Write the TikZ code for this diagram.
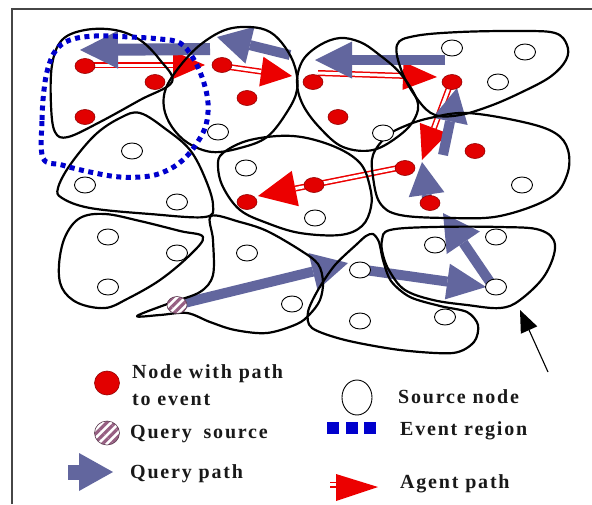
\documentclass[tikz,border=0pt]{standalone}
\usepackage{fontspec}
\setmainfont{Liberation Serif}
\newfontfamily\legfont[LetterSpace=9]{Liberation Serif}
\usetikzlibrary{shapes.geometric,calc,patterns.meta}

\definecolor{qblue}{RGB}{98,102,158}
\definecolor{ared}{RGB}{236,0,0}
\definecolor{nred}{RGB}{226,0,0}
\definecolor{evblue}{RGB}{0,0,205}
\definecolor{mauve}{RGB}{150,95,130}
\definecolor{framegray}{RGB}{70,70,70}
\definecolor{txt}{RGB}{25,25,25}

\tikzset{
  blob/.style={draw=black, line width=2.2pt, line join=round},
  evregion/.style={draw=evblue, line width=5pt, dash pattern=on 5pt off 4.5pt},
  rednode/.style={ellipse, draw=nred!65!black, line width=0.6pt, fill=nred, minimum width=20pt, minimum height=15pt, inner sep=0pt},
  srcnode/.style={ellipse, draw=black, line width=0.9pt, fill=white, minimum width=21pt, minimum height=16pt, inner sep=0pt},
  qsrcnode/.style={ellipse, draw=mauve!60!black, line width=0.6pt, preaction={fill=white}, pattern={Lines[angle=45,distance=6pt,line width=3.2pt]}, pattern color=mauve, minimum width=20pt, minimum height=17pt, inner sep=0pt},
  legtext/.style={anchor=base west, inner sep=0pt, text=txt, font=\legfont\bfseries\fontsize{20}{24}\selectfont},
  agentline/.style={draw=ared, line width=1.5pt, double=white, double distance=3pt},
}

% #1 colour, #2 start, #3 tip, #4 head length, #5 half head width, #6 shaft width
\newcommand{\blockarrow}[6]{%
  \path ($(#3)!#4!(#2)$) coordinate (tmpbase);
  \draw[draw=#1, line width=#6] (#2) -- (tmpbase);
  \fill[#1] (#3) -- ($(tmpbase)!#5!90:(#3)$) -- ($(tmpbase)!#5!-90:(#3)$) -- cycle;
}
% #1 start, #2 tip, #3 head length, #4 half head width
\newcommand{\agentarrow}[4]{%
  \path ($(#2)!#3!(#1)$) coordinate (tmpabase);
  \draw[agentline] (#1) -- (tmpabase);
  \fill[ared] (#2) -- ($(tmpabase)!#4!90:(#2)$) -- ($(tmpabase)!#4!-90:(#2)$) -- cycle;
}

\begin{document}
\begin{tikzpicture}[x=1pt, y=-1pt]
\useasboundingbox (0,0) rectangle (592,504);
\fill[white] (0,0) rectangle (592,504);

% frame
\coordinate (fbl) at (12,504);
\coordinate (ftl) at (12,9);
\coordinate (ftr) at (592,9);
\draw[framegray, line width=2pt] (fbl) -- (ftl) -- (ftr);

% ---------- arrow end points ----------
\coordinate (q1s) at (180,304);  \coordinate (q1t) at (348,263);
\coordinate (q2s) at (365,270);  \coordinate (q2t) at (486,287);
\coordinate (q3s) at (490,282);  \coordinate (q3t) at (443,213);
\coordinate (q4s) at (428,205);  \coordinate (q4t) at (422,162);
\coordinate (q5s) at (443,155);  \coordinate (q5t) at (457,88);
\coordinate (q6s) at (445,60);   \coordinate (q6t) at (315,60);
\coordinate (q7s) at (290,55);   \coordinate (q7t) at (217,37);
\coordinate (q8s) at (210,49);   \coordinate (q8t) at (80,50);

\coordinate (a1s) at (88,65);    \coordinate (a1t) at (205,65);
\coordinate (a2s) at (222,66);   \coordinate (a2t) at (292,76);
\coordinate (a3s) at (318,73);   \coordinate (a3t) at (437,77);
\coordinate (a4s) at (450,85);   \coordinate (a4t) at (422,160);
\coordinate (a5s) at (403,167);  \coordinate (a5t) at (258,196);

% ---------- agent path ----------
\agentarrow{a1s}{a1t}{32pt}{14pt}
\agentarrow{a2s}{a2t}{31pt}{15pt}
\agentarrow{a3s}{a3t}{34pt}{14pt}
\agentarrow{a4s}{a4t}{34pt}{15pt}
\agentarrow{a5s}{a5t}{38pt}{18pt}

% ---------- query path ----------
\blockarrow{qblue}{q1s}{q1t}{36pt}{19pt}{10pt}
\blockarrow{qblue}{q2s}{q2t}{39pt}{18pt}{10pt}
\blockarrow{qblue}{q3s}{q3t}{36pt}{20pt}{10pt}
\blockarrow{qblue}{q4s}{q4t}{33pt}{18pt}{10pt}
\blockarrow{qblue}{q5s}{q5t}{34pt}{18pt}{10pt}
\blockarrow{qblue}{q6s}{q6t}{37pt}{18.5pt}{10pt}
\blockarrow{qblue}{q7s}{q7t}{34pt}{19pt}{10pt}
\blockarrow{qblue}{q8s}{q8t}{38pt}{19pt}{12pt}

% ---------- clusters ----------
\begin{scope}[blob]
\draw plot[smooth cycle, tension=0.6] coordinates {(62,40) (85,30) (115,30) (140,40) (160,60) (172,82) (140,100) (100,122) (68,137) (55,132) (51,105) (52,65)};
\draw plot[smooth cycle, tension=0.6] coordinates {(200,45) (225,30) (250,27) (270,32) (285,47) (295,67) (297,90) (287,112) (267,137) (240,148) (212,152) (188,143) (172,127) (164,108) (166,88) (180,66)};
\draw plot[smooth cycle, tension=0.6] coordinates {(303,60) (320,45) (340,38) (360,42) (377,53) (400,73) (417,100) (415,118) (400,135) (373,150) (343,147) (320,128) (303,105) (297,82)};
\draw plot[smooth cycle, tension=0.6] coordinates {(397,45) (415,36) (460,32) (520,31) (555,33) (567,45) (566,60) (550,77) (520,93) (490,106) (460,115) (435,115) (418,100) (402,72)};
\draw plot[smooth cycle, tension=0.6] coordinates {(387,136) (405,126) (430,118) (467,113) (523,122) (555,133) (568,150) (567,175) (550,198) (500,216) (450,218) (400,215) (380,203) (373,177) (373,155)};
\draw plot[smooth cycle, tension=0.6] coordinates {(223,153) (250,140) (293,136) (333,146) (360,163) (370,187) (371,207) (362,226) (340,235) (300,233) (267,223) (240,210) (223,187) (218,166)};
\draw plot[smooth cycle, tension=0.6] coordinates {(140,113) (167,130) (190,150) (205,178) (213,205) (205,217) (150,214) (90,208) (62,198) (58,188) (70,165) (95,135) (120,118)};
\draw plot[smooth cycle, tension=0.6] coordinates {(80,218) (105,214) (140,221) (180,231) (203,237) (190,255) (160,280) (127,299) (105,308) (78,303) (62,288) (59,265) (65,237)};
\draw plot[smooth cycle, tension=0.55] coordinates {(211,216) (240,222) (267,231) (300,250) (318,264) (323,282) (320,300) (310,314) (297,324) (267,333) (235,330) (210,322) (187,313) (160,315) (137,316) (170,303) (200,292) (213,275) (213,240)};
\draw plot[smooth cycle, tension=0.5] coordinates {(366,236) (373,234) (379,242) (383,260) (391,281) (410,297) (440,306) (467,312) (478,325) (474,342) (453,353) (400,350) (345,340) (312,328) (308,312) (318,290) (335,265) (357,244)};
\draw plot[smooth cycle, tension=0.6] coordinates {(382,240) (390,230) (433,227) (500,227) (540,230) (555,245) (545,275) (520,300) (500,308) (467,305) (433,300) (405,290) (390,272) (383,255)};
\end{scope}

% ---------- event region ----------
\draw[evregion] plot[smooth cycle, tension=0.6] coordinates {(43,158) (42,120) (44,90) (48,68) (56,50) (70,40) (95,36) (130,37) (160,39) (180,43) (193,58) (203,80) (208,103) (206,125) (197,143) (185,158) (170,169) (150,176) (120,177) (90,172) (62,165)};

% ---------- sensor nodes ----------
\foreach \n/\p in {r1/{(85,66)}, r2/{(155,82)}, r3/{(85,117)}, r4/{(222,65)}, r5/{(247,98)}, r6/{(313,82)}, r7/{(338,117)}, r8/{(452,82)}, r9/{(475,151)}, r10/{(405,168)}, r11/{(430,203)}, r12/{(314,185)}, r13/{(247,202)}}
  \node[rednode] (\n) at \p {};
\foreach \n/\p in {s1/{(452,48)}, s2/{(525,52)}, s3/{(498,82)}, s4/{(383,133)}, s5/{(218,132)}, s6/{(132,151)}, s7/{(85,185)}, s8/{(177,202)}, s9/{(246,168)}, s10/{(522,185)}, s11/{(315,218)}, s12/{(108,237)}, s13/{(177,253)}, s14/{(247,253)}, s15/{(108,287)}, s16/{(292,304)}, s17/{(360,270)}, s18/{(435,245)}, s19/{(496,237)}, s20/{(496,287)}, s21/{(445,317)}, s22/{(360,321)}}
  \node[srcnode] (\n) at \p {};
\node[qsrcnode] (qs) at (177,305) {};

% ---------- pointer arrow ----------
\coordinate (pstart) at (548,372);
\coordinate (ptip) at (520,310);
\blockarrow{black}{pstart}{ptip}{22pt}{9pt}{1.1pt}

% ---------- legend ----------
\node[rednode, minimum width=25pt, minimum height=24pt] (lred) at (107,383) {};
\node[legtext] (t1) at (132,378.3) {Node with path};
\node[legtext] (t2) at (132,405) {to event};
\node[qsrcnode, minimum width=25pt, minimum height=24pt] (lqs) at (107,433) {};
\node[legtext] (t3) at (130,438) {Query\hspace{5pt} source};
\coordinate (lqa) at (68,472);
\coordinate (lqb) at (113,472);
\blockarrow{qblue}{lqa}{lqb}{34pt}{19pt}{15pt}
\node[legtext] (t4) at (130,478) {Query path};

\node[ellipse, draw=black, line width=0.9pt, minimum width=30pt, minimum height=35pt, inner sep=0pt] (lsrc) at (357,397.5) {};
\node[legtext] (t5) at (398,403) {Source node};
\foreach \i/\x in {1/333,2/352,3/370}
  \node[fill=evblue, minimum size=12pt, inner sep=0pt] (lev\i) at (\x,428) {};
\node[legtext] (t6) at (400,435) {Event region};
\coordinate (las) at (330,484.7);
\coordinate (lam) at (338,484.7);
\draw[agentline] (las) -- (lam);
\coordinate (lat1) at (336,474);
\coordinate (lat2) at (378,487);
\coordinate (lat3) at (336,501);
\fill[ared] (lat1) -- (lat2) -- (lat3) -- cycle;
\node[legtext] (t7) at (400,488) {Agent path};
\end{tikzpicture}
\end{document}
